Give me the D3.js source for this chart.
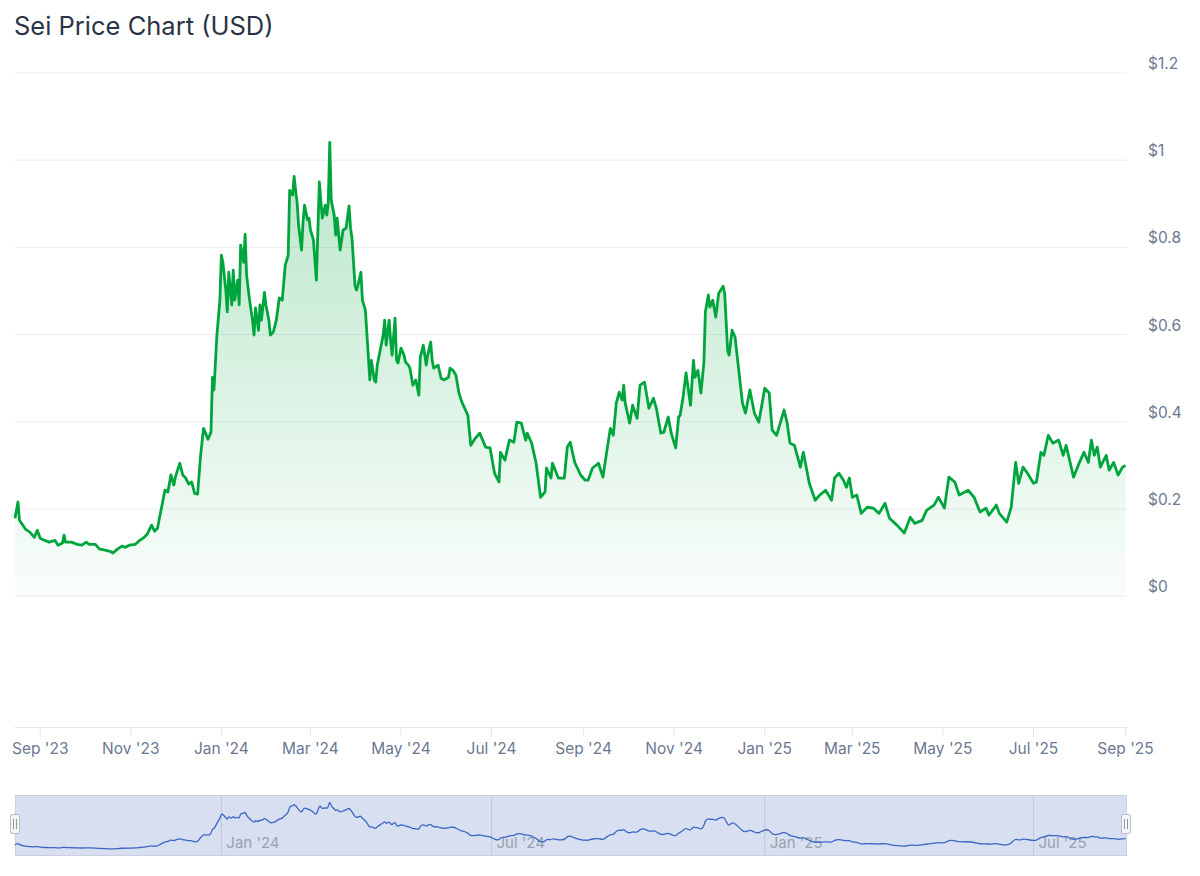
<!DOCTYPE html>
<html><head><meta charset="utf-8">
<script src="https://cdn.jsdelivr.net/npm/d3@7/dist/d3.min.js"></script>
<style>body{margin:0;background:#fff;font-family:Inter,"Noto Sans",sans-serif}</style>
</head><body><svg id="c" width="1200" height="876"></svg>
<script>
const title = "Sei Price Chart (USD)";
const startDate = "2023-08-15";
const endDate = "2025-09-02";
// days since startDate
const dayOffsets = [0,2,3,7,10,13,15,17,20,23,27,29,32,33,34,38,42,45,48,50,54,57,60,64,66,69,72,74,77,81,84,87,89,92,94,96,97,101,103,105,107,108,111,113,115,117,119,121,123,125,127,130,132,133,134,136,138,139,140,142,143,144,146,147,148,150,151,152,154,155,156,158,160,161,162,164,165,166,168,169,171,172,174,176,178,180,182,184,185,187,188,189,190,191,193,194,195,197,198,199,201,203,205,206,207,209,210,211,212,213,215,216,217,219,221,223,225,226,227,229,230,231,233,234,236,239,240,242,243,244,248,249,250,252,253,254,256,257,258,260,262,263,265,266,268,270,272,273,275,277,278,280,281,282,285,287,289,292,293,295,297,299,301,305,307,310,313,317,320,323,326,327,330,333,336,338,341,344,345,348,351,354,357,358,361,362,366,370,372,374,377,381,384,386,389,393,396,398,401,403,405,407,409,410,411,414,416,419,421,424,427,430,432,435,437,440,442,445,447,448,450,452,455,457,458,460,462,464,465,467,468,470,472,474,477,478,480,481,483,485,490,492,495,498,501,505,508,510,513,518,520,522,525,529,531,535,539,542,546,550,552,555,558,560,562,564,567,570,574,578,582,586,589,594,599,603,606,611,614,619,622,626,629,633,636,642,646,650,654,656,661,663,668,671,674,676,679,682,686,688,691,693,696,699,703,706,708,710,713,717,720,723,725,727,729,731,735,737,740,743,746,748];
const prices = [0.179,0.216,0.174,0.154,0.147,0.135,0.151,0.133,0.128,0.124,0.128,0.117,0.122,0.140,0.124,0.124,0.119,0.117,0.124,0.119,0.119,0.108,0.106,0.103,0.099,0.108,0.115,0.112,0.117,0.119,0.128,0.135,0.142,0.163,0.149,0.156,0.174,0.243,0.239,0.278,0.255,0.273,0.305,0.278,0.271,0.257,0.262,0.236,0.234,0.323,0.385,0.360,0.376,0.502,0.473,0.599,0.679,0.782,0.766,0.702,0.652,0.743,0.668,0.748,0.679,0.725,0.668,0.805,0.766,0.830,0.736,0.679,0.633,0.599,0.661,0.610,0.668,0.633,0.697,0.668,0.633,0.599,0.606,0.633,0.684,0.679,0.759,0.782,0.931,0.920,0.963,0.931,0.904,0.851,0.794,0.858,0.897,0.863,0.867,0.840,0.817,0.725,0.950,0.908,0.867,0.897,0.874,0.902,1.041,0.908,0.874,0.828,0.867,0.794,0.840,0.844,0.895,0.844,0.821,0.713,0.702,0.713,0.743,0.679,0.656,0.496,0.541,0.496,0.491,0.530,0.599,0.633,0.576,0.633,0.587,0.553,0.638,0.541,0.535,0.569,0.553,0.537,0.530,0.523,0.484,0.496,0.461,0.548,0.576,0.530,0.553,0.583,0.541,0.523,0.530,0.500,0.496,0.502,0.523,0.518,0.507,0.466,0.445,0.415,0.346,0.362,0.374,0.342,0.340,0.282,0.262,0.330,0.312,0.358,0.353,0.399,0.397,0.358,0.374,0.351,0.305,0.227,0.239,0.294,0.271,0.305,0.271,0.271,0.342,0.353,0.307,0.278,0.266,0.266,0.294,0.305,0.273,0.319,0.385,0.369,0.443,0.468,0.450,0.484,0.443,0.397,0.438,0.408,0.484,0.491,0.431,0.454,0.431,0.374,0.376,0.411,0.374,0.340,0.411,0.415,0.457,0.512,0.438,0.541,0.502,0.518,0.466,0.535,0.652,0.691,0.663,0.679,0.640,0.695,0.711,0.695,0.564,0.553,0.610,0.594,0.443,0.420,0.473,0.420,0.399,0.477,0.466,0.381,0.369,0.427,0.399,0.351,0.346,0.296,0.330,0.259,0.220,0.232,0.243,0.220,0.271,0.282,0.266,0.250,0.271,0.227,0.232,0.190,0.204,0.202,0.190,0.213,0.179,0.163,0.145,0.181,0.167,0.174,0.197,0.209,0.227,0.202,0.273,0.262,0.232,0.243,0.227,0.193,0.202,0.186,0.209,0.190,0.170,0.204,0.307,0.259,0.296,0.282,0.259,0.262,0.330,0.323,0.369,0.351,0.358,0.323,0.346,0.317,0.273,0.307,0.330,0.307,0.358,0.323,0.342,0.296,0.323,0.289,0.307,0.278,0.296,0.300];
const yTicks = [0,0.2,0.4,0.6,0.8,1,1.2];
const xTickDates = ["2023-09-01","2023-11-01","2024-01-01","2024-03-01","2024-05-01","2024-07-01","2024-09-01","2024-11-01","2025-01-01","2025-03-01","2025-05-01","2025-07-01","2025-09-01"];
const navTickDates = ["2024-01-01","2024-07-01","2025-01-01","2025-07-01"];

const parse = d3.utcParse("%Y-%m-%d");
const t0 = parse(startDate);
const data = dayOffsets.map((d,i)=>({date:d3.utcDay.offset(t0,d), v:prices[i]}));
const svg = d3.select("#c");
const x = d3.scaleUtc().domain([t0, parse(endDate)]).range([15,1127]);
const y = d3.scaleLinear().domain([-0.3,1.2]).range([727,73]);
const fmtM = d3.utcFormat("%b '%y");

svg.append("text").attr("x",14).attr("y",35).attr("font-size",25.5).attr("fill","#2b3445").text(title);

svg.append("g").selectAll("line").data(yTicks).join("line")
  .attr("x1",15).attr("x2",1127).attr("y1",d=>y(d)).attr("y2",d=>y(d))
  .attr("stroke","#e9ecf1").attr("stroke-width",1);
svg.append("g").selectAll("text").data(yTicks).join("text")
  .attr("x",1148).attr("y",d=>y(d)-4).attr("font-size",15.5).attr("fill","#6b7891")
  .text(d=>"$"+d3.format("~g")(d));

const defs = svg.append("defs");
const g = defs.append("linearGradient").attr("id","gr").attr("x1",0).attr("x2",0).attr("y1",0).attr("y2",1);
g.append("stop").attr("offset","0%").attr("stop-color","#00a63d").attr("stop-opacity",0.28);
g.append("stop").attr("offset","100%").attr("stop-color","#00a63d").attr("stop-opacity",0.02);

svg.append("path").datum(data).attr("fill","url(#gr)")
  .attr("d",d3.area().x(d=>x(d.date)).y0(y(0)).y1(d=>y(d.v)));
svg.append("path").datum(data).attr("fill","none").attr("stroke","#00a63d").attr("stroke-width",2.8)
  .attr("stroke-linejoin","round")
  .attr("d",d3.line().x(d=>x(d.date)).y(d=>y(d.v)));

svg.append("line").attr("x1",15).attr("x2",1127).attr("y1",727.5).attr("y2",727.5).attr("stroke","#e3e7ee");
const xt = xTickDates.map(parse);
svg.append("g").selectAll("line").data(xt).join("line")
  .attr("x1",d=>x(d)).attr("x2",d=>x(d)).attr("y1",728).attr("y2",737).attr("stroke","#e3e7ee");
svg.append("g").selectAll("text").data(xt).join("text")
  .attr("x",d=>x(d)).attr("y",754).attr("text-anchor","middle").attr("font-size",15.5).attr("fill","#6b7891")
  .text(d=>fmtM(d));

const ny = d3.scaleLinear().domain([d3.min(prices),d3.max(prices)]).range([849,800]);
svg.append("rect").attr("x",15.5).attr("y",795.5).attr("width",1111).attr("height",60)
  .attr("fill","#d7dff0").attr("stroke","#c8cfdd");
const nt = navTickDates.map(parse);
svg.append("g").selectAll("line").data(nt).join("line")
  .attr("x1",d=>x(d)).attr("x2",d=>x(d)).attr("y1",796).attr("y2",855).attr("stroke","#c0c7d6");
svg.append("g").selectAll("text").data(nt).join("text")
  .attr("x",d=>x(d)+5).attr("y",848).attr("font-size",15).attr("fill","#9aa1ad").text(d=>fmtM(d));
svg.append("path").datum(data).attr("fill","none").attr("stroke","#3d66c4").attr("stroke-width",1.3)
  .attr("d",d3.line().x(d=>x(d.date)).y(d=>ny(d.v)).curve(d3.curveBasis));
[15,1126].forEach(hx=>{
  const h=svg.append("g");
  h.append("rect").attr("x",hx-4.5).attr("y",814.5).attr("width",9).attr("height",19).attr("rx",1.5)
    .attr("fill","#f4f5f8").attr("stroke","#b8bfcc");
  h.append("line").attr("x1",hx-1.5).attr("x2",hx-1.5).attr("y1",819).attr("y2",829).attr("stroke","#999");
  h.append("line").attr("x1",hx+1.5).attr("x2",hx+1.5).attr("y1",819).attr("y2",829).attr("stroke","#999");
});
</script></body></html>
